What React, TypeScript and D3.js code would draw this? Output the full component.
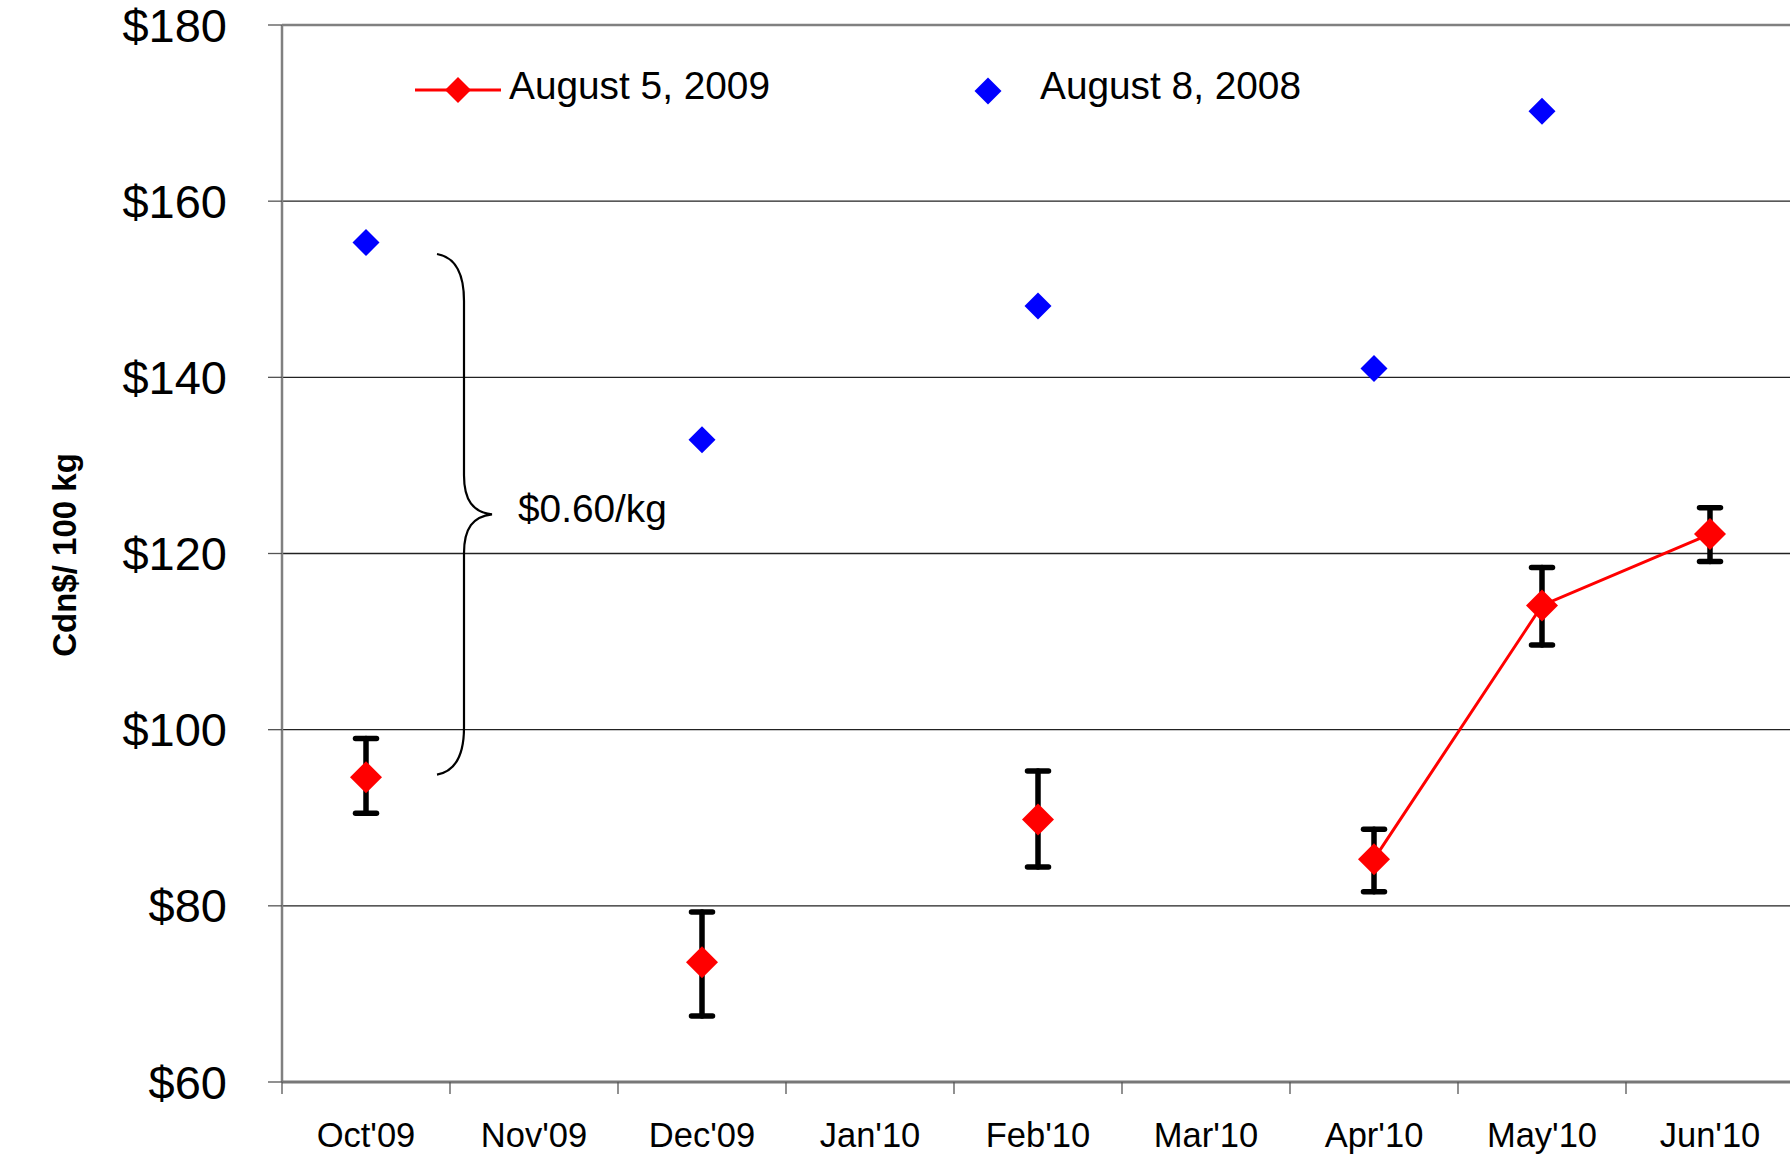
import React from 'react';
import * as d3 from 'd3';

const months = ["Oct'09", "Nov'09", "Dec'09", "Jan'10", "Feb'10", "Mar'10", "Apr'10", "May'10", "Jun'10"];
// August 5, 2009 settlement (red) with high / low bars
const aug2009 = [94.6, null, 73.6, null, 89.8, null, 85.3, 114.1, 122.2];
const aug2009High = [99.0, null, 79.3, null, 95.3, null, 88.7, 118.4, 125.2];
const aug2009Low = [90.5, null, 67.5, null, 84.4, null, 81.6, 109.6, 119.1];
// August 8, 2008 (blue)
const aug2008 = [155.3, null, 132.9, null, 148.1, null, 141.0, 170.2, null];
const yTicks = [60, 80, 100, 120, 140, 160, 180];

const W = 1790;
const H = 1159;
const FONT = '"Liberation Sans", Arial, sans-serif';

const diamond = (r: number) => `M0,${-r}L${r},0L0,${r}L${-r},0Z`;

export default function App() {
  const x = d3.scaleBand<string>().domain(months).range([282, 1794]).padding(0);
  const y = d3.scaleLinear().domain([60, 180]).range([1082, 25]);
  const cx = (i: number) => (x(months[i]) as number) + x.bandwidth() / 2;

  const line = d3.line<number | null>()
    .defined((d) => d != null)
    .x((d, i) => cx(i))
    .y((d) => y(d as number));

  // brace spanning the gap between the two Oct'09 quotes
  const bx = cx(0) + 71;
  const bTop = y(154);
  const bBot = y(94.9);
  const bMid = (bTop + bBot) / 2;
  const bv = bx + 27;
  const bt = bx + 55;
  const brace = `M${bx},${bTop} C${bx + 17},${bTop + 3} ${bv},${bTop + 17} ${bv},${bTop + 47}` +
    ` L${bv},${bMid - 39} C${bv},${bMid - 14} ${bv + 9},${bMid - 2} ${bt},${bMid}` +
    ` C${bv + 9},${bMid + 2} ${bv},${bMid + 14} ${bv},${bMid + 39}` +
    ` L${bv},${bBot - 47} C${bv},${bBot - 17} ${bx + 17},${bBot - 3} ${bx},${bBot}`;

  const edges = months.map((m) => x(m) as number).concat([1794]);

  return (
    <svg width={W} height={H} style={{position: 'absolute', left: 0, top: 0, background: '#fff'}}
         fontFamily={FONT}>
      {/* gridlines */}
      {yTicks.slice(1, -1).map((t) => (
        <line key={t} x1={282} x2={W} y1={y(t)} y2={y(t)} stroke="#222" strokeWidth={1.4}/>
      ))}
      {/* plot border top */}
      <line x1={282} x2={W} y1={y(180)} y2={y(180)} stroke="#808080" strokeWidth={2.5}/>
      {/* y axis */}
      <line x1={282} x2={282} y1={y(180)} y2={y(60)} stroke="#808080" strokeWidth={2.5}/>
      {yTicks.map((t) => (
        <g key={t}>
          <line x1={268} x2={282} y1={y(t)} y2={y(t)} stroke="#555" strokeWidth={1.3}/>
          <text x={227} y={y(t) + 16.5} textAnchor="end" fontSize={47}>${t}</text>
        </g>
      ))}
      {/* x axis */}
      <line x1={282} x2={W} y1={y(60)} y2={y(60)} stroke="#777" strokeWidth={2.8}/>
      {edges.map((e, i) => (
        <line key={i} x1={e} x2={e} y1={y(60)} y2={y(60) + 12} stroke="#555" strokeWidth={1.3}/>
      ))}
      {months.map((m, i) => (
        <text key={m} x={cx(i)} y={1147} textAnchor="middle" fontSize={34.5}>{m}</text>
      ))}

      {/* axis title */}
      <text transform={`translate(76,555) rotate(-90)`} textAnchor="middle" fontSize={33}
            fontWeight="bold">Cdn$/ 100 kg</text>

      {/* brace annotation */}
      <path d={brace} fill="none" stroke="#000" strokeWidth={2.2}/>
      <text x={518} y={522} fontSize={38.8}>$0.60/kg</text>

      {/* August 5, 2009 line */}
      <path d={line(aug2009) || ''} fill="none" stroke="#ff0000" strokeWidth={3}/>
      {aug2009.map((v, i) => v == null ? null : (
        <g key={i} stroke="#000" strokeWidth={5.5} strokeLinecap="round">
          <line x1={cx(i)} x2={cx(i)} y1={y(aug2009High[i] as number)} y2={y(aug2009Low[i] as number)}/>
          <line x1={cx(i) - 10.5} x2={cx(i) + 10.5} y1={y(aug2009High[i] as number)} y2={y(aug2009High[i] as number)}/>
          <line x1={cx(i) - 10.5} x2={cx(i) + 10.5} y1={y(aug2009Low[i] as number)} y2={y(aug2009Low[i] as number)}/>
        </g>
      ))}
      {aug2009.map((v, i) => v == null ? null : (
        <path key={i} d={diamond(16)} transform={`translate(${cx(i)},${y(v)})`} fill="#ff0000"/>
      ))}

      {/* August 8, 2008 points */}
      {aug2008.map((v, i) => v == null ? null : (
        <path key={i} d={diamond(13.5)} transform={`translate(${cx(i)},${y(v)})`} fill="#0000ff"/>
      ))}

      {/* legend */}
      <line x1={415} x2={501} y1={90} y2={90} stroke="#ff0000" strokeWidth={3}/>
      <path d={diamond(13)} transform="translate(458,90)" fill="#ff0000"/>
      <text x={509} y={99} fontSize={38.8}>August 5, 2009</text>
      <path d={diamond(13.5)} transform="translate(988,91)" fill="#0000ff"/>
      <text x={1040} y={99} fontSize={38.8}>August 8, 2008</text>
    </svg>
  );
}
